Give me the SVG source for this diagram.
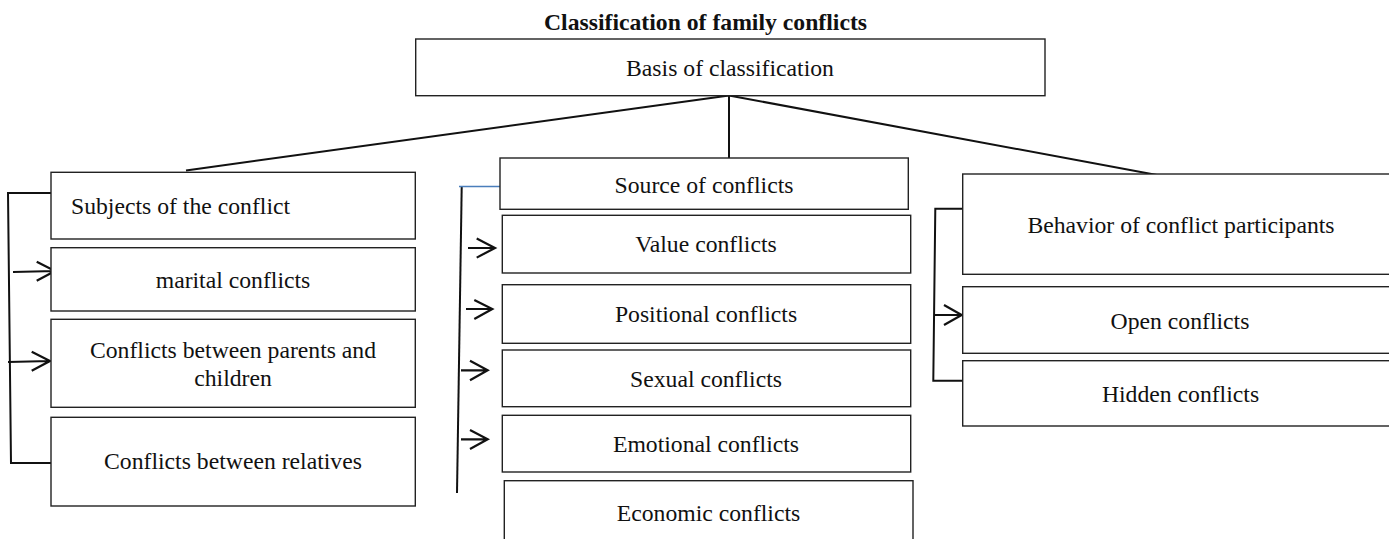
<svg xmlns="http://www.w3.org/2000/svg" width="1389" height="539" viewBox="0 0 1389 539">
<style>
.box{fill:#fff;stroke:#222;stroke-width:1.4}
.t{font-family:"Liberation Serif","Times New Roman",serif;font-size:23.7px;fill:#111;text-anchor:middle}
.title{font-family:"Liberation Serif","Times New Roman",serif;font-size:23.7px;font-weight:bold;fill:#111;text-anchor:middle}
.ln{fill:none;stroke:#111;stroke-width:2;stroke-linejoin:miter}
.ar{fill:none;stroke:#111;stroke-width:2.2}
.blue{fill:none;stroke:#4a7ebb;stroke-width:1.6}
</style>
<rect width="1389" height="539" fill="#fff"/>
<text class="title" x="705.5" y="29.5">Classification of family conflicts</text>

<g id="connectors">
<path class="ln" d="M729,95.5 L186,170.5"/>
<path class="ln" d="M729,95.5 L729,158"/>
<path class="ln" d="M729,95.5 L1173,178"/>
<path class="ln" d="M51,193 L8,193 L11,463 L51,463"/>
<path class="ln" d="M461.7,187 L457,493"/>
<path class="blue" d="M459,186.5 L502,186.5"/>
<path class="ln" d="M962.7,208.7 L935.3,208.7 L933.3,380.7 L962.7,380.7"/>
<path class="ar" d="M13,272 L55,271 M36.7,261.7 L55,271 L36.7,280.7"/>
<path class="ar" d="M8,362 L50,361 M31.7,351.7 L50,361 L31.7,370.7"/>
<path class="ar" d="M468,248 L495,248 M476.7,238.6 L495,248 L476.7,257.6"/>
<path class="ar" d="M466,309 L492.3,309 M474.3,300 L492.3,309 L474.3,319"/>
<path class="ar" d="M461,370.3 L487.7,370.3 M470,360.7 L487.7,370.3 L470,380.3"/>
<path class="ar" d="M461,439.3 L487.7,439.3 M470,430 L487.7,439.3 L470,449"/>
<path class="ar" d="M935,315 L961.7,315 M944,305 L961.7,315 L944,325"/>
</g>

<g id="basis"><rect class="box" x="415.7" y="39" width="629.3" height="56.7"/><text class="t" x="730" y="76">Basis of classification</text></g>

<g id="subjects"><rect class="box" x="51" y="172.3" width="364.3" height="66.7"/><text class="t" x="71" y="214.3" style="text-anchor:start">Subjects of the conflict</text></g>
<g id="marital"><rect class="box" x="51" y="247.7" width="364.3" height="63.3"/><text class="t" x="233" y="288">marital conflicts</text></g>
<g id="parents"><rect class="box" x="51" y="319.3" width="364.3" height="88"/><text class="t" x="233" y="358.3">Conflicts between parents and</text><text class="t" x="233" y="386">children</text></g>
<g id="relatives"><rect class="box" x="51" y="417.3" width="364.3" height="88.7"/><text class="t" x="233" y="469.3">Conflicts between relatives</text></g>

<g id="source"><rect class="box" x="500" y="158" width="408.3" height="51.3"/><text class="t" x="704" y="192.7">Source of conflicts</text></g>
<g id="value"><rect class="box" x="502.3" y="215.3" width="408.4" height="57.7"/><text class="t" x="706" y="251.7">Value conflicts</text></g>
<g id="positional"><rect class="box" x="502.3" y="284.7" width="408.4" height="58.6"/><text class="t" x="706" y="321.7">Positional conflicts</text></g>
<g id="sexual"><rect class="box" x="502.3" y="350" width="408.4" height="56.7"/><text class="t" x="706" y="386.7">Sexual conflicts</text></g>
<g id="emotional"><rect class="box" x="502.3" y="415.3" width="408.4" height="56.7"/><text class="t" x="706" y="452">Emotional conflicts</text></g>
<g id="economic"><rect class="box" x="504.3" y="480.7" width="408.7" height="70"/><text class="t" x="708.5" y="520.7">Economic conflicts</text></g>

<g id="behavior"><rect class="box" x="962.7" y="174" width="440" height="100.3"/><text class="t" x="1181" y="233.3">Behavior of conflict participants</text></g>
<g id="open"><rect class="box" x="962.7" y="286.7" width="440" height="66.6"/><text class="t" x="1180" y="329.3">Open conflicts</text></g>
<g id="hidden"><rect class="box" x="962.7" y="360.7" width="440" height="65.3"/><text class="t" x="1180.5" y="401.7">Hidden conflicts</text></g>
</svg>
